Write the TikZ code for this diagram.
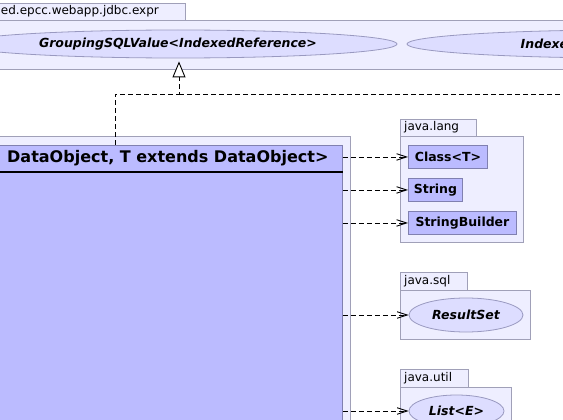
\documentclass[tikz,border=0pt]{standalone}
\usepackage{fontspec}
\setmainfont{DejaVu Sans}
\usetikzlibrary{arrows.meta,shapes.geometric}
\definecolor{pkgfill}{HTML}{EEEEFF}
\definecolor{pkgline}{HTML}{A0A0B8}
\definecolor{clsfill}{HTML}{BBBBFF}
\definecolor{clsline}{HTML}{8080B0}
\definecolor{ifcfill}{HTML}{DDDDFF}
\definecolor{ifcline}{HTML}{9999C0}
\begin{document}
\begin{tikzpicture}[x=1pt,y=-1pt,
 pkg/.style={draw=pkgline,fill=pkgfill,line width=0.9pt,inner sep=0,anchor=north west},
 cls/.style={draw=clsline,fill=clsfill,line width=0.9pt,inner sep=0,anchor=north west,font=\fontsize{12.5}{14}\selectfont\bfseries},
 ifc/.style={ellipse,draw=ifcline,fill=ifcfill,line width=0.8pt,inner sep=0,font=\fontsize{12.5}{14}\selectfont\bfseries\itshape},
 pkglabel/.style={font=\fontsize{12}{14}\selectfont,anchor=west,inner sep=0},
 dashline/.style={draw,dash pattern=on 5pt off 3pt,line width=0.9pt},
 dep/.style={dashline,-{Straight Barb[length=10pt,width=6.5pt]}},
 real/.style={dashline,-{Triangle[open,length=16pt,width=13pt,fill=white]}}
]
\useasboundingbox (0,0) rectangle (563,420);
\clip (0,0) rectangle (563,420);
\fill[white] (0,0) rectangle (563,420);

% top package
\node[pkg,minimum width=195,minimum height=17] (topTab) at (-10,3) {};
\node[pkglabel,anchor=east] (topLbl) at (159,11.5) {ed.epcc.webapp.jdbc.expr};
\node[pkg,minimum width=585,minimum height=49] (topPkg) at (-10,20) {};
\node[ifc,minimum width=438,minimum height=28] (ell1) at (178,44) {GroupingSQLValue<IndexedReference>};
\node[ifc,minimum width=438,minimum height=28] (ell2) at (626,44) {};
\node[anchor=west,inner sep=0,font=\fontsize{12.5}{14}\selectfont\bfseries\itshape] (ell2txt) at (520.5,44) {Indexed};

% class package and class
\node[pkg,minimum width=360,minimum height=300] (clsPkg) at (-10,136) {};
\node[cls,minimum width=352,minimum height=290] (cls) at (-10,145) {};
\draw[line width=1.5pt] (cls.west |- 0,172) -- (cls.east |- 0,172);
\node[font=\fontsize{16}{18}\selectfont\bfseries,anchor=west,inner sep=0] (clsName) at (7,158.5) {DataObject, T extends DataObject>};

% java.lang
\node[pkg,minimum width=76,minimum height=17] (langTab) at (400,119) {};
\node[pkglabel] (langLbl) at (404,127.5) {java.lang};
\node[pkg,minimum width=123,minimum height=106] (langPkg) at (400,136) {};
\node[cls,minimum width=79,minimum height=23] (cT) at (408,145) {Class<T>};
\node[cls,minimum width=54,minimum height=23] (str) at (408,178) {String};
\node[cls,minimum width=108,minimum height=23] (sb) at (408,211) {StringBuilder};

% java.sql
\node[pkg,minimum width=67,minimum height=18] (sqlTab) at (400,272) {};
\node[pkglabel] (sqlLbl) at (404,281) {java.sql};
\node[pkg,minimum width=130,minimum height=49] (sqlPkg) at (400,290) {};
\node[ifc,minimum width=114,minimum height=34] (rs) at (466,315) {ResultSet};

% java.util
\node[pkg,minimum width=68,minimum height=18] (utilTab) at (400,369) {};
\node[pkglabel] (utilLbl) at (404,378) {java.util};
\node[pkg,minimum width=111,minimum height=60] (utilPkg) at (400,387) {};
\node[ifc,minimum width=95,minimum height=32] (lst) at (456.5,411) {List<E>};

% dependencies
\draw[dep] (cls.east |- cT.west) -- (cT.west);
\draw[dep] (cls.east |- str.west) -- (str.west);
\draw[dep] (cls.east |- sb.west) -- (sb.west);
\draw[dep] (cls.east |- rs.west) -- (rs.west);
\draw[dep] (cls.east |- lst.west) -- (lst.west);

% realization
\coordinate (b1) at (115,94);
\coordinate (b2) at (179,94);
\coordinate (offR) at (580,94);
\draw[real,shorten >=3pt] (cls.north -| b1) -- (b1) -- (b2) -- (b2 |- ell1.south);
\draw[dashline] (b2) -- (offR);
\end{tikzpicture}
\end{document}
